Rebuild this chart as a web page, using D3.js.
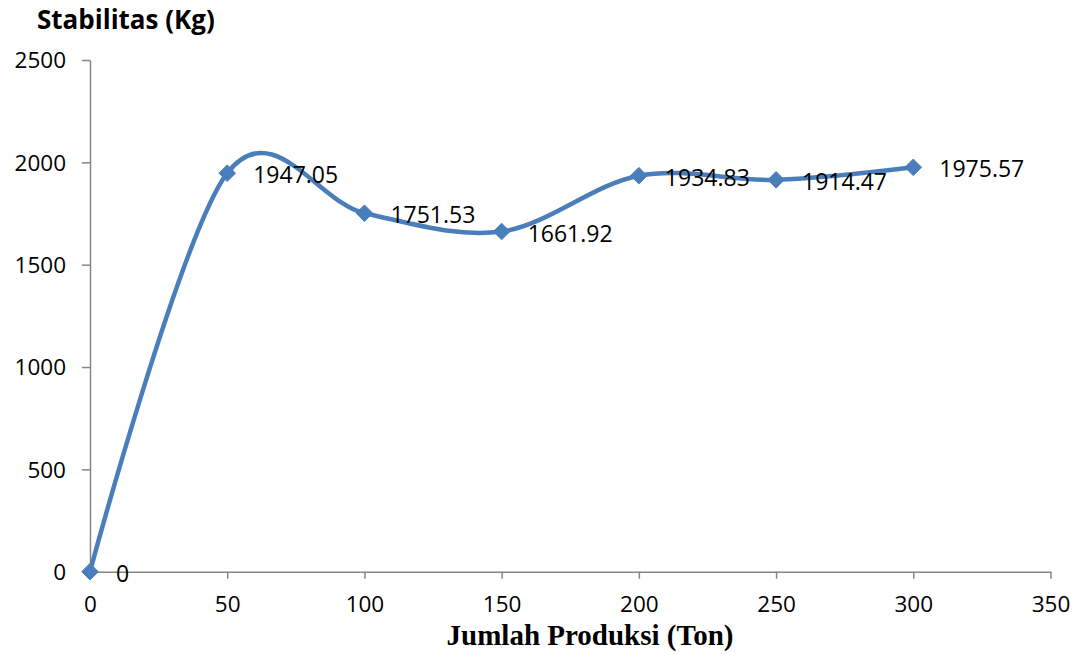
<!DOCTYPE html>
<html>
<head>
<meta charset="utf-8">
<script src="https://cdn.jsdelivr.net/npm/d3@7"></script>
<style>
  html, body { margin: 0; padding: 0; background: #ffffff; }
  svg { display: block; }
</style>
</head>
<body>
<svg id="chart" width="1086" height="654"></svg>
<script>
// Production amount (tons) and stability (kg)
const produksi = [0, 50, 100, 150, 200, 250, 300];
const stabilitas = [0, 1947.05, 1751.53, 1661.92, 1934.83, 1914.47, 1975.57];
const xTicks = [0, 50, 100, 150, 200, 250, 300, 350];
const yTicks = [0, 500, 1000, 1500, 2000, 2500];

const data = produksi.map((p, i) => ({ x: p, y: stabilitas[i] }));

const svg = d3.select("#chart");
const margin = { left: 90, right: 35.5, top: 60, bottom: 82.3 };
const W = 1086, H = 654;

const x = d3.scaleLinear().domain([0, 350]).range([margin.left, W - margin.right]);
const y = d3.scaleLinear().domain([0, 2500]).range([H - margin.bottom, margin.top]);

const axisColor = "#868686";
const tickFont = "'Open Sans', 'Noto Sans', sans-serif";

// X axis
const gx = svg.append("g")
  .attr("transform", `translate(0,${y(0)})`)
  .call(d3.axisBottom(x).tickValues(xTicks).tickFormat(d3.format("d"))
    .tickSize(7).tickSizeOuter(0).tickPadding(17));
// Y axis
const gy = svg.append("g")
  .attr("transform", `translate(${x(0)},0)`)
  .call(d3.axisLeft(y).tickValues(yTicks).tickFormat(d3.format("d"))
    .tickSize(8).tickSizeOuter(0).tickPadding(16));

[gx, gy].forEach(g => {
  g.select(".domain").attr("stroke", axisColor).attr("stroke-width", 1.5);
  g.selectAll(".tick line").attr("stroke", axisColor).attr("stroke-width", 1.5);
  g.selectAll(".tick text")
    .attr("fill", "#000")
    .style("font-family", tickFont)
    .style("font-size", "22.5px");
});
gy.selectAll(".tick text").attr("dy", "0.35em");

// Smoothed series line
const line = d3.line()
  .x(d => x(d.x))
  .y(d => y(d.y))
  .curve(d3.curveCardinal.tension(0));

const blue = "#4A7EBB";
svg.append("path")
  .datum(data)
  .attr("fill", "none")
  .attr("stroke", blue)
  .attr("stroke-width", 4.5)
  .attr("stroke-linejoin", "round")
  .attr("d", line);

// Diamond markers
const diamond = d3.symbol().type(d3.symbolDiamond2).size(175);
svg.append("g").selectAll("path")
  .data(data)
  .join("path")
  .attr("transform", d => `translate(${x(d.x)},${y(d.y)})`)
  .attr("d", diamond)
  .attr("fill", blue)
  .attr("stroke", blue)
  .attr("stroke-width", 1);

// Value labels
svg.append("g").selectAll("text")
  .data(data)
  .join("text")
  .attr("x", d => x(d.x) + 26)
  .attr("y", d => y(d.y) + 2)
  .attr("dy", "0.35em")
  .style("font-family", tickFont)
  .style("font-size", "23px")
  .attr("fill", "#000")
  .text(d => d.y === 0 ? "0" : d3.format(".2f")(d.y));

// Axis titles
svg.append("text")
  .attr("x", 37)
  .attr("y", 29)
  .style("font-family", tickFont)
  .style("font-weight", "bold")
  .style("font-size", "26px")
  .attr("fill", "#000")
  .text("Stabilitas (Kg)");

svg.append("text")
  .attr("x", 590)
  .attr("y", 645)
  .attr("text-anchor", "middle")
  .style("font-family", "'Liberation Serif', 'Times New Roman', serif")
  .style("font-weight", "bold")
  .style("font-size", "29px")
  .attr("fill", "#000")
  .text("Jumlah Produksi (Ton)");
</script>
</body>
</html>
